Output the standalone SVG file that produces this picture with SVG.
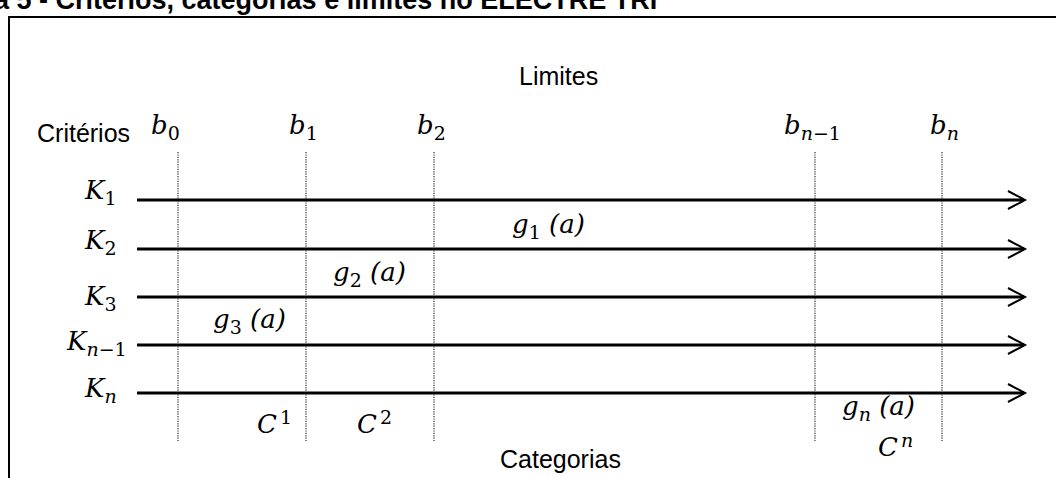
<svg xmlns="http://www.w3.org/2000/svg" width="1056" height="478" viewBox="0 0 1056 478">
<style>
.t{font-family:"Liberation Sans",Arial,sans-serif;font-size:25px;fill:#000}
.title{font-family:"Liberation Sans",Arial,sans-serif;font-size:27px;font-weight:bold;fill:#000}
.m{font-family:"DejaVu Serif","Liberation Serif",serif;font-style:italic;font-size:26px;fill:#000}
.up{font-style:normal}
.s{font-size:19px}
.v{stroke:#4a4a4a;stroke-width:1.4;stroke-dasharray:1.2 1.2;fill:none}
.h{stroke:#000;stroke-width:3;fill:none}
.ah{stroke:#000;stroke-width:2;fill:none}
</style>
<rect width="1056" height="478" fill="#fff"/>
<text class="title" x="-6" y="9">a 5 - Critérios, categorias e limites no ELECTRE TRI</text>
<path d="M1056,17 H9 V478" fill="none" stroke="#000" stroke-width="2"/>
<g id="labels-text">
<text class="t" x="519" y="85">Limites</text>
<text class="t" x="37" y="142">Critérios</text>
<text class="t" x="500" y="468">Categorias</text>
</g>
<g id="limits">
<g id="b0"><line class="v" x1="178" y1="152" x2="178" y2="441"/><text class="m" x="151" y="134">b<tspan class="s up" dy="6">0</tspan></text></g>
<g id="b1"><line class="v" x1="306" y1="152" x2="306" y2="441"/><text class="m" x="289" y="134">b<tspan class="s up" dy="6">1</tspan></text></g>
<g id="b2"><line class="v" x1="434" y1="152" x2="434" y2="441"/><text class="m" x="417" y="134">b<tspan class="s up" dy="6">2</tspan></text></g>
<g id="bn-1"><line class="v" x1="815" y1="152" x2="815" y2="441"/><text class="m" x="784" y="134">b<tspan class="s" dy="6">n</tspan><tspan class="s up">−1</tspan></text></g>
<g id="bn"><line class="v" x1="942" y1="152" x2="942" y2="441"/><text class="m" x="930" y="134">b<tspan class="s" dy="6">n</tspan></text></g>
</g>
<g id="connectors">
<line class="h" x1="137" y1="200" x2="1024" y2="200"/><polyline class="ah" points="1008,191 1025,200 1008,209"/>
<line class="h" x1="137" y1="249" x2="1024" y2="249"/><polyline class="ah" points="1008,240 1025,249 1008,258"/>
<line class="h" x1="137" y1="297" x2="1024" y2="297"/><polyline class="ah" points="1008,288 1025,297 1008,306"/>
<line class="h" x1="137" y1="345" x2="1024" y2="345"/><polyline class="ah" points="1008,336 1025,345 1008,354"/>
<line class="h" x1="137" y1="393" x2="1024" y2="393"/><polyline class="ah" points="1008,384 1025,393 1008,402"/>
</g>
<g id="criteria">
<g id="K1"><text class="m" x="85" y="199">K<tspan class="s up" dy="6">1</tspan></text></g>
<g id="K2"><text class="m" x="85" y="249">K<tspan class="s up" dy="6">2</tspan></text></g>
<g id="K3"><text class="m" x="85" y="305">K<tspan class="s up" dy="6">3</tspan></text></g>
<g id="Kn-1"><text class="m" x="67" y="350">K<tspan class="s" dy="6">n</tspan><tspan class="s up">−1</tspan></text></g>
<g id="Kn"><text class="m" x="85" y="397">K<tspan class="s" dy="6">n</tspan></text></g>
</g>
<g id="performances">
<g id="g1"><text class="m" x="512" y="233">g<tspan class="s up" dy="6">1</tspan><tspan dy="-6"> (a)</tspan></text></g>
<g id="g2"><text class="m" x="333" y="281">g<tspan class="s up" dy="6">2</tspan><tspan dy="-6"> (a)</tspan></text></g>
<g id="g3"><text class="m" x="213" y="328">g<tspan class="s up" dy="6">3</tspan><tspan dy="-6"> (a)</tspan></text></g>
<g id="gn"><text class="m" x="842" y="415">g<tspan class="s" dy="6">n</tspan><tspan dy="-6"> (a)</tspan></text></g>
</g>
<g id="categories">
<g id="C1"><text class="m" x="257" y="433">C<tspan class="s up" dx="3" dy="-9">1</tspan></text></g>
<g id="C2"><text class="m" x="357" y="433">C<tspan class="s up" dx="3" dy="-9">2</tspan></text></g>
<g id="Cn"><text class="m" x="878" y="456">C<tspan class="s" dx="3" dy="-9">n</tspan></text></g>
</g>
</svg>
